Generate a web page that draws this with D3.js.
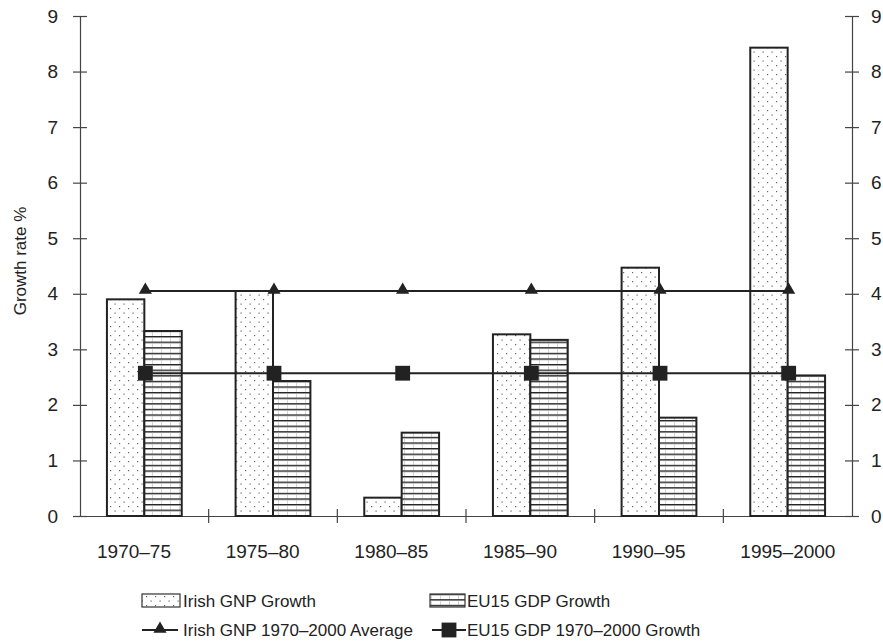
<!DOCTYPE html>
<html><head><meta charset="utf-8">
<script src="https://cdn.jsdelivr.net/npm/d3@7"></script>
<style>body{margin:0;background:#fff}svg{display:block;font-family:"Liberation Sans",Arial,Helvetica,sans-serif}</style>
</head><body><svg id="c" width="883" height="644"></svg>
<script>
const categories = ["1970–75","1975–80","1980–85","1985–90","1990–95","1995–2000"];
const irishGNP = [3.9, 4.05, 0.33, 3.27, 4.47, 8.43];
const eu15GDP = [3.33, 2.43, 1.5, 3.17, 1.77, 2.53];
const irishAvg = [4.05, 4.05, 4.05, 4.05, 4.05, 4.05];
const euAvg = [2.57, 2.57, 2.57, 2.57, 2.57, 2.57];
const yTicks = [0,1,2,3,4,5,6,7,8,9];
const legendLabels = ["Irish GNP Growth","EU15 GDP Growth","Irish GNP 1970–2000 Average","EU15 GDP 1970–2000 Growth"];

const FONT = '"Liberation Sans",Arial,Helvetica,sans-serif';
const svg = d3.select("#c");
const L = 80, R = 852, T = 16, B = 516;
const x = d3.scaleBand().domain(categories).range([L, R]).paddingInner(0).paddingOuter(0);
const y = d3.scaleLinear().domain([0, 9]).range([B, T]);
const sub = d3.scaleBand().domain(["irish","eu"]).range([0, x.bandwidth()]).paddingInner(0).paddingOuter(0.72);

const defs = svg.append("defs");
const pd = defs.append("pattern").attr("id","dots").attr("patternUnits","userSpaceOnUse").attr("width",9).attr("height",9);
pd.append("rect").attr("width",9).attr("height",9).attr("fill","#fff");
pd.append("rect").attr("x",2).attr("y",2).attr("width",1.2).attr("height",1.2).attr("fill","#666");
pd.append("rect").attr("x",6.5).attr("y",6.5).attr("width",1.2).attr("height",1.2).attr("fill","#666");
const ph = defs.append("pattern").attr("id","hlines").attr("patternUnits","userSpaceOnUse").attr("width",9).attr("height",5.6);
ph.append("rect").attr("width",9).attr("height",5.6).attr("fill","#fff");
ph.append("rect").attr("x",0).attr("y",0).attr("width",9).attr("height",1.4).attr("fill","#222");
ph.append("rect").attr("x",8).attr("y",1.4).attr("width",0.6).attr("height",4.2).attr("fill","#bbb");

// axes
const axL = d3.axisLeft(y).tickValues(yTicks).tickSize(7).tickSizeOuter(0).tickPadding(14);
const gL = svg.append("g").attr("transform",`translate(${L},0)`).call(axL);
const axR = d3.axisRight(y).tickValues(yTicks).tickSize(7).tickSizeOuter(0).tickPadding(14);
const gR = svg.append("g").attr("transform",`translate(${R},0)`).call(axR);
[gL,gR].forEach(g=>{
  g.attr("font-size",19).attr("font-family",FONT);
  g.select(".domain").attr("stroke","#444").attr("stroke-width",1.2);
  g.selectAll(".tick line").attr("stroke","#444").attr("stroke-width",1.2);
  g.selectAll("text").attr("fill","#222");
});
gL.selectAll(".tick line").attr("x1",7).attr("x2",-7);
gR.selectAll(".tick line").attr("x1",-7).attr("x2",7);
gL.selectAll(".tick text").attr("x",-22);
gR.selectAll(".tick text").attr("x",19);

// x axis baseline and category ticks
const xb = d3.axisBottom(x).tickSize(0).tickPadding(22);
const gX = svg.append("g").attr("transform",`translate(0,${B})`).call(xb);
gX.attr("font-size",19).attr("font-family",FONT);
gX.select(".domain").attr("stroke","#444").attr("stroke-width",1.2);
gX.selectAll("text").attr("fill","#222").attr("text-anchor","start")
  .attr("x",-x.bandwidth()/2 + 17).attr("y",0).attr("dy",42);
const bounds = categories.slice(1).map(c => x(c));
svg.append("g").selectAll("line").data(bounds).join("line")
  .attr("x1",d=>d).attr("x2",d=>d).attr("y1",B-7).attr("y2",B+7).attr("stroke","#444").attr("stroke-width",1.2);

// bars
const gb = svg.append("g");
gb.selectAll(".ir").data(irishGNP).join("rect")
  .attr("x",(d,i)=>x(categories[i])+sub("irish")).attr("width",sub.bandwidth())
  .attr("y",d=>y(d)).attr("height",d=>B-y(d))
  .attr("fill","url(#dots)").attr("stroke","#222").attr("stroke-width",2);
gb.selectAll(".eu").data(eu15GDP).join("rect")
  .attr("x",(d,i)=>x(categories[i])+sub("eu")).attr("width",sub.bandwidth())
  .attr("y",d=>y(d)).attr("height",d=>B-y(d))
  .attr("fill","url(#hlines)").attr("stroke","#222").attr("stroke-width",2);

// lines
const cx = (d,i)=> x(categories[i]) + x.bandwidth()/2 + 1;
const line = d3.line().x(cx).y(d=>y(d));
svg.append("path").datum(irishAvg).attr("d",line).attr("fill","none").attr("stroke","#222").attr("stroke-width",2);
svg.append("path").datum(euAvg).attr("d",line).attr("fill","none").attr("stroke","#222").attr("stroke-width",2);
const tri = d3.symbol().type(d3.symbolTriangle).size(75);
const sq = d3.symbol().type(d3.symbolSquare).size(220);
svg.append("g").selectAll("path").data(irishAvg).join("path")
  .attr("d",tri).attr("transform",(d,i)=>`translate(${cx(d,i)},${y(d)-1})`).attr("fill","#222");
svg.append("g").selectAll("path").data(euAvg).join("path")
  .attr("d",sq).attr("transform",(d,i)=>`translate(${cx(d,i)},${y(d)})`).attr("fill","#222");

// y title
svg.append("text").attr("transform","translate(26,261) rotate(-90)").attr("text-anchor","middle")
  .attr("font-size",17).attr("fill","#222").text("Growth rate %");

// legend
const lg = svg.append("g").attr("font-size",17).attr("fill","#222");
lg.append("rect").attr("x",142).attr("y",594).attr("width",38).attr("height",13).attr("fill","url(#dots)").attr("stroke","#333").attr("stroke-width",1.2);
lg.append("text").attr("x",183).attr("y",607).text(legendLabels[0]);
lg.append("rect").attr("x",430).attr("y",594).attr("width",35).attr("height",13).attr("fill","url(#hlines)").attr("stroke","#333").attr("stroke-width",1.2);
lg.append("text").attr("x",467).attr("y",607).text(legendLabels[1]);
lg.append("line").attr("x1",142).attr("x2",178).attr("y1",630).attr("y2",630).attr("stroke","#222").attr("stroke-width",1.8);
lg.append("path").attr("d",tri).attr("transform","translate(160,629)").attr("fill","#222");
lg.append("text").attr("x",183).attr("y",636).text(legendLabels[2]);
lg.append("line").attr("x1",432).attr("x2",466).attr("y1",630).attr("y2",630).attr("stroke","#222").attr("stroke-width",1.8);
lg.append("path").attr("d",sq).attr("transform","translate(449,630)").attr("fill","#222");
lg.append("text").attr("x",467).attr("y",636).text(legendLabels[3]);
</script></body></html>
